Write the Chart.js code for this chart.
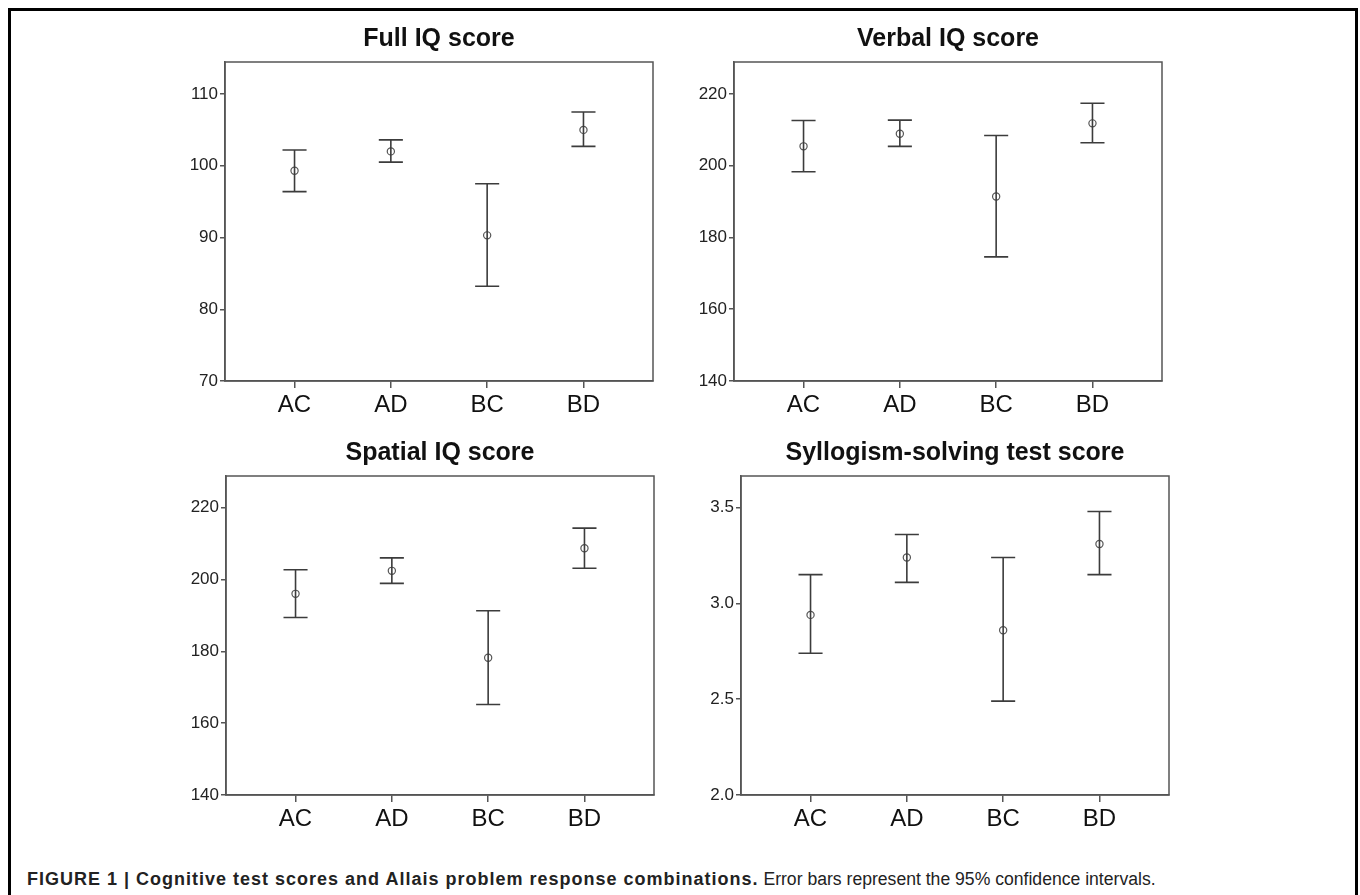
<!DOCTYPE html>
<html>
<head>
<meta charset="utf-8">
<script src="https://cdn.jsdelivr.net/npm/chart.js@4.4.0/dist/chart.umd.min.js"></script>
<style>
  body { margin: 0; background: #fff; width: 1360px; height: 895px; overflow: hidden; position: relative; }
  .frame { position: absolute; left: 8px; top: 8px; width: 1350px; height: 900px; border: 3px solid #000; box-sizing: border-box; }
  canvas { position: absolute; }
  .caption { position: absolute; left: 27px; top: 870px; font-family: 'Liberation Sans', Arial, sans-serif; font-size: 17.6px; line-height: 18px; color: #222; white-space: nowrap; }
  .caption b { font-weight: bold; font-size: 18px; letter-spacing: 1px; }
</style>
</head>
<body>
<div class="frame"></div>
<canvas id="c1" width="520" height="415" style="left:150px;top:10px"></canvas>
<canvas id="c2" width="520" height="415" style="left:659px;top:10px"></canvas>
<canvas id="c3" width="520" height="415" style="left:151px;top:424px"></canvas>
<canvas id="c4" width="520" height="415" style="left:666px;top:424px"></canvas>
<div class="caption"><b>FIGURE 1 | Cognitive test scores and Allais problem response combinations.</b> Error bars represent the 95% confidence intervals.</div>
<script>
/* data */
var categories = ['AC', 'AD', 'BC', 'BD']

var fullMean = [99.3, 102.0, 90.3, 105.0]
var fullLow = [96.4, 100.5, 83.2, 102.7]
var fullHigh = [102.2, 103.6, 97.5, 107.5]
var fullTicks = [70, 80, 90, 100, 110]

var verbalMean = [205.4, 208.9, 191.4, 211.8]
var verbalLow = [198.3, 205.4, 174.6, 206.4]
var verbalHigh = [212.6, 212.7, 208.4, 217.4]
var verbalTicks = [140, 160, 180, 200, 220]

var spatialMean = [196.0, 202.4, 178.2, 208.7]
var spatialLow = [189.4, 198.9, 165.2, 203.1]
var spatialHigh = [202.7, 206.0, 191.3, 214.3]
var spatialTicks = [140, 160, 180, 200, 220]

var sylMean = [2.94, 3.24, 2.86, 3.31]
var sylLow = [2.74, 3.11, 2.49, 3.15]
var sylHigh = [3.15, 3.36, 3.24, 3.48]
var sylTicks = [2.0, 2.5, 3.0, 3.5]

Chart.defaults.font.family = "'Liberation Sans', Arial, sans-serif"
Chart.defaults.color = '#222'

var axisColor = '#555'
var capHalf = 0.125

// box round the plot area (SPSS style)
var boxPlugin = {
    id: 'box',
    afterDraw: function (chart) {
        var a = chart.chartArea
        var ctx = chart.ctx
        ctx.save()
        ctx.strokeStyle = axisColor
        ctx.lineWidth = 1.5
        ctx.strokeRect(a.left, a.top, a.right - a.left, a.bottom - a.top)
        ctx.restore()
    }
}

function whiskerData(low, high) {
    var pts = []
    for (var i = 0; i < low.length; i++) {
        pts.push({ x: i, y: low[i] }, { x: i, y: high[i] }, { x: i, y: null })
        pts.push({ x: i - capHalf, y: high[i] }, { x: i + capHalf, y: high[i] }, { x: i, y: null })
        pts.push({ x: i - capHalf, y: low[i] }, { x: i + capHalf, y: low[i] }, { x: i, y: null })
    }
    return pts
}

function makeChart(id, title, mean, low, high, yTicks, yMax, decimals) {
    var ctx = document.getElementById(id)
    return new Chart(ctx, {
        type: 'scatter',
        data: {
            datasets: [{
                label: 'CI',
                data: whiskerData(low, high),
                showLine: true,
                spanGaps: false,
                borderColor: '#3c3c3c',
                borderWidth: 1.6,
                pointRadius: 0
            }, {
                label: 'Mean',
                data: mean.map(function (v, i) { return { x: i, y: v } }),
                pointRadius: 3.6,
                pointBackgroundColor: '#fff',
                pointBorderColor: '#555',
                pointBorderWidth: 1.2
            }]
        },
        options: {
            responsive: false,
            animation: false,
            devicePixelRatio: 1,
            layout: { padding: { left: 0, right: 17, top: 0, bottom: 0 } },
            plugins: {
                legend: { display: false },
                tooltip: { enabled: false },
                title: {
                    display: true,
                    text: title,
                    fullSize: false,
                    color: '#111',
                    font: { size: 25, weight: 'bold' },
                    padding: { top: 14, bottom: 8 }
                }
            },
            scales: {
                x: {
                    type: 'linear',
                    min: -0.722,
                    max: 3.722,
                    afterBuildTicks: function (scale) {
                        scale.ticks = categories.map(function (c, i) { return { value: i } })
                    },
                    afterFit: function (scale) { scale.height = 44 },
                    ticks: {
                        font: { size: 24 },
                        color: '#111',
                        padding: 3,
                        maxRotation: 0,
                        callback: function (v) { return categories[v] }
                    },
                    grid: { drawOnChartArea: false, drawTicks: true, tickLength: 7, color: axisColor, lineWidth: 1.5 },
                    border: { display: true, color: axisColor, width: 1.5 }
                },
                y: {
                    min: yTicks[0],
                    max: yMax,
                    afterBuildTicks: function (scale) {
                        scale.ticks = yTicks.map(function (v) { return { value: v } })
                    },
                    afterFit: function (scale) { scale.width = 75 },
                    ticks: {
                        font: { size: 17 },
                        color: '#222',
                        padding: 2,
                        callback: function (v) { return v.toFixed(decimals) }
                    },
                    grid: { drawOnChartArea: false, drawTicks: true, tickLength: 5, color: axisColor, lineWidth: 1.5 },
                    border: { display: true, color: axisColor, width: 1.5 }
                }
            }
        },
        plugins: [boxPlugin]
    })
}

makeChart('c1', 'Full IQ score', fullMean, fullLow, fullHigh, fullTicks, 114.46, 0)
makeChart('c2', 'Verbal IQ score', verbalMean, verbalLow, verbalHigh, verbalTicks, 228.9, 0)
makeChart('c3', 'Spatial IQ score', spatialMean, spatialLow, spatialHigh, spatialTicks, 228.8, 0)
makeChart('c4', 'Syllogism-solving test score', sylMean, sylLow, sylHigh, sylTicks, 3.665, 1)
</script>
</body>
</html>
